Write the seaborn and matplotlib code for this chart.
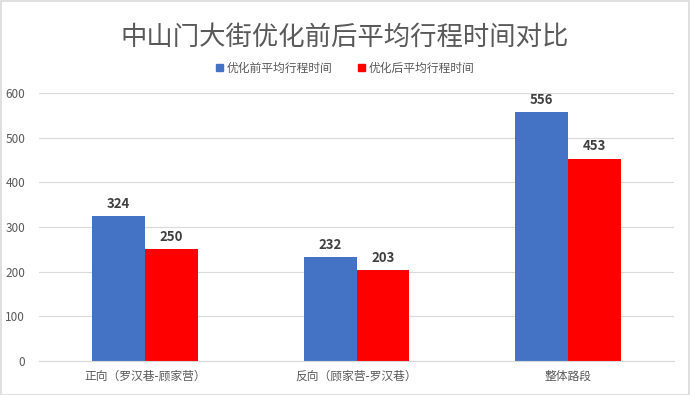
import pandas as pd
import matplotlib.pyplot as plt
import seaborn as sns

categories = ["正向（罗汉巷-顾家营）", "反向（顾家营-罗汉巷）", "整体路段"]
series_names = ["优化前平均行程时间", "优化后平均行程时间"]
before = [324, 232, 556]
after = [250, 203, 453]
yticks = [0, 100, 200, 300, 400, 500, 600]

df = pd.DataFrame({
    "category": categories * 2,
    "series": [series_names[0]] * 3 + [series_names[1]] * 3,
    "value": before + after,
})

sns.set_theme(style="white")
plt.rcParams["font.family"] = ["Noto Sans CJK SC", "DejaVu Sans"]

TEXT = "#595959"
GRID = "#d9d9d9"

fig = plt.figure(figsize=(6.9, 3.95), dpi=100)
ax = fig.add_axes([0.0565, 0.086, 0.9205, 0.679])

sns.barplot(data=df, x="category", y="value", hue="series", order=categories,
            hue_order=series_names, palette=["#4472c4", "#ff0000"],
            width=0.5, gap=0, saturation=1, linewidth=0, ax=ax, legend=False)

for container in ax.containers:
    ax.bar_label(container, padding=4, fontsize=9.5, fontweight="bold", color="#404040")

ax.set_ylim(0, 600)
ax.set_yticks(yticks)
ax.set_xlim(-0.5, 2.5)
ax.yaxis.grid(True, color=GRID, linewidth=0.8)
ax.set_axisbelow(True)
ax.set_xlabel("")
ax.set_ylabel("")
ax.tick_params(axis="both", length=0, labelsize=8.5, colors=TEXT, pad=6)
ax.tick_params(axis="y", pad=10)
for s in ["top", "right", "left"]:
    ax.spines[s].set_visible(False)
ax.spines["bottom"].set_color(GRID)
ax.spines["bottom"].set_linewidth(0.8)

fig.text(0.5, 0.905, "中山门大街优化前后平均行程时间对比", ha="center", va="center",
         fontsize=19, color=TEXT)

handles = [plt.Rectangle((0, 0), 1, 1, color=c) for c in ["#4472c4", "#ff0000"]]
fig.legend(handles, series_names, loc="center", bbox_to_anchor=(0.5, 0.828), ncol=2,
           frameon=False, fontsize=8.5, handlelength=0.6, handleheight=0.6,
           handletextpad=0.3, columnspacing=2.2, labelcolor=TEXT)

fig.patches.append(plt.Rectangle((0.001, 0.001), 0.997, 0.997, transform=fig.transFigure,
                                 fill=False, edgecolor=GRID, linewidth=1.2))

fig.savefig("out.png", dpi=100)
